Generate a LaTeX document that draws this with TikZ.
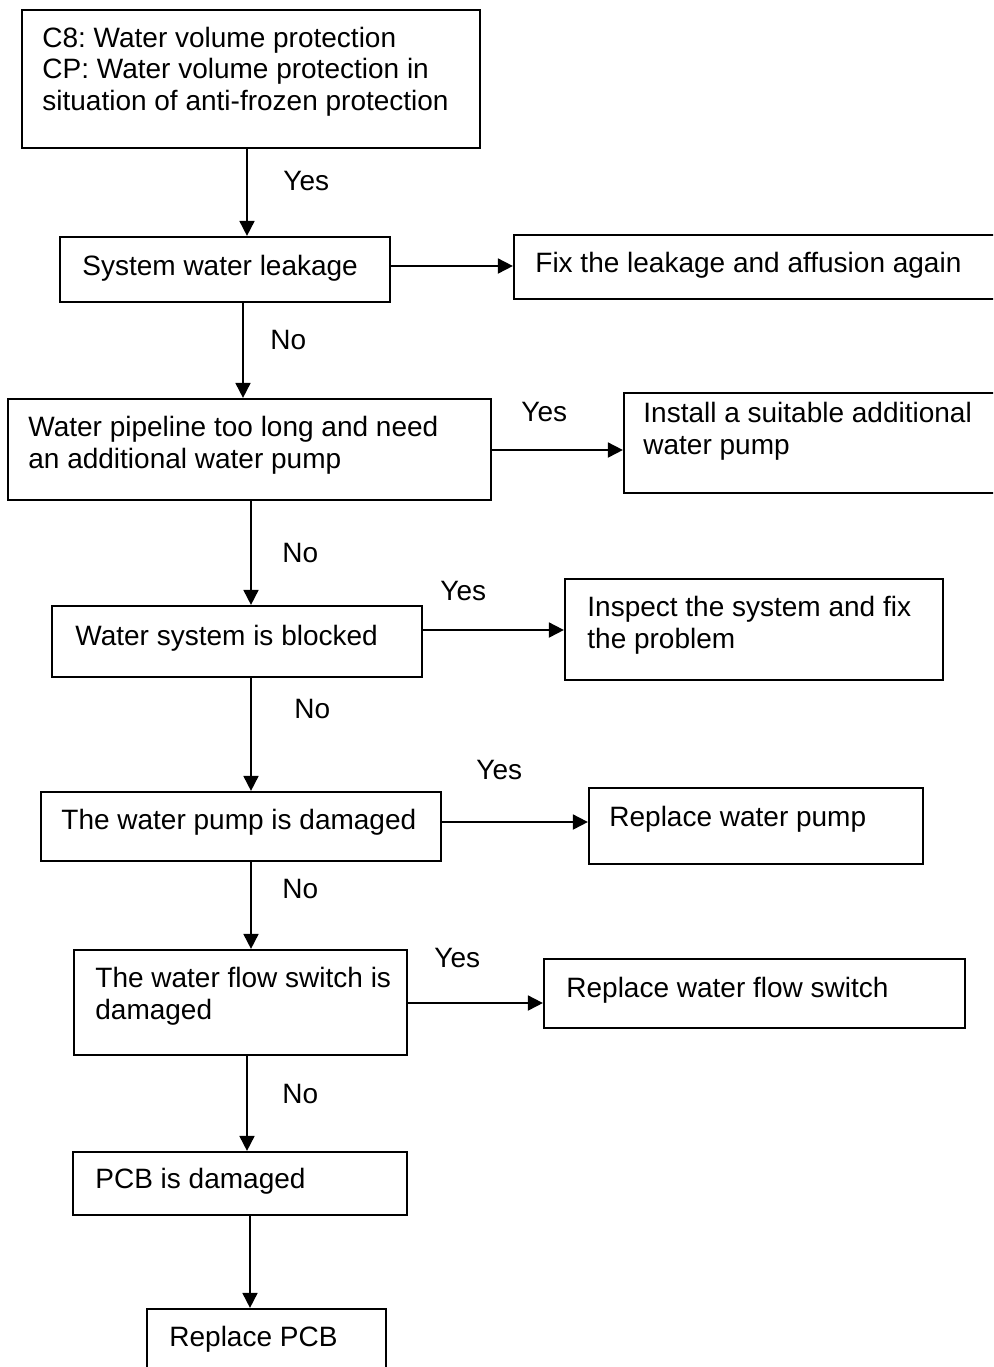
\documentclass[tikz,border=0pt]{standalone}
\usepackage{fontspec}
\setmainfont{Liberation Sans}
\usetikzlibrary{arrows.meta,fit}

\tikzset{
  box/.style={draw, line width=1.1pt, inner sep=0pt},
  txt/.style={anchor=base west, align=left, inner sep=0pt,
    font=\fontsize{14pt}{15.75pt}\selectfont\frenchspacing},
  arr/.style={line width=0.9pt, -{Triangle[width=7.5pt,length=7.5pt]}}
}

\begin{document}
\begin{tikzpicture}[x=0.5pt, y=-0.5pt]

\useasboundingbox (0,0) rectangle (993,1367);
\clip (0,0) rectangle (993,1367);

% Boxes
\node[box, fit={(22,10) (480,148)}] (prot) {};
\node[box, fit={(60,237) (390,302)}] (leak) {};
\node[box, fit={(514,235) (1005,299)}] (fixleak) {};
\node[box, fit={(8,399) (491,500)}] (pipe) {};
\node[box, fit={(624,393) (1005,493)}] (addpump) {};
\node[box, fit={(52,606) (422,677)}] (block) {};
\node[box, fit={(565,579) (943,680)}] (inspect) {};
\node[box, fit={(41,792) (441,861)}] (pump) {};
\node[box, fit={(589,788) (923,864)}] (newpump) {};
\node[box, fit={(74,950) (407,1055)}] (flow) {};
\node[box, fit={(544,959) (965,1028)}] (newflow) {};
\node[box, fit={(73,1152) (407,1215)}] (pcb) {};
\node[box, fit={(147,1309) (386,1390)}] (newpcb) {};

% Texts (base = last line)
\node[txt] (tprot) at (42,110) {C8: Water volume protection\\CP: Water volume protection in\\situation of anti-frozen protection};
\node[txt] (tleak) at (82,275) {System water leakage};
\node[txt] (tfixleak) at (535,272) {Fix the leakage and affusion again};
\node[txt] (tpipe) at (28,468) {Water pipeline too long and need\\an additional water pump};
\node[txt] (taddpump) at (643,454) {Install a suitable additional\\water pump};
\node[txt] (tblock) at (75,645) {Water system is blocked};
\node[txt] (tinspect) at (587,648) {Inspect the system and fix\\the problem};
\node[txt] (tpump) at (61,829) {The water pump is damaged};
\node[txt] (tnewpump) at (609,826) {Replace water pump};
\node[txt] (tflow) at (95,1019) {The water flow switch is\\damaged};
\node[txt] (tnewflow) at (566,997) {Replace water flow switch};
\node[txt] (tpcb) at (95,1188) {PCB is damaged};
\node[txt] (tnewpcb) at (169,1346) {Replace PCB};

% Arrows
\draw[arr] (247,0 |- prot.south) -- (247,0 |- leak.north);
\draw[arr] (leak.east |- 0,266) -- (fixleak.west |- 0,266);
\draw[arr] (243,0 |- leak.south) -- (243,0 |- pipe.north);
\draw[arr] (pipe.east |- 0,450) -- (addpump.west |- 0,450);
\draw[arr] (251,0 |- pipe.south) -- (251,0 |- block.north);
\draw[arr] (block.east |- 0,630) -- (inspect.west |- 0,630);
\draw[arr] (251,0 |- block.south) -- (251,0 |- pump.north);
\draw[arr] (pump.east |- 0,822) -- (newpump.west |- 0,822);
\draw[arr] (251,0 |- pump.south) -- (251,0 |- flow.north);
\draw[arr] (flow.east |- 0,1003) -- (newflow.west |- 0,1003);
\draw[arr] (247,0 |- flow.south) -- (247,0 |- pcb.north);
\draw[arr] (250,0 |- pcb.south) -- (250,0 |- newpcb.north);

% Labels
\node[txt] (yes1) at (283,190) {Yes};
\node[txt] (no1) at (270,349) {No};
\node[txt] (yes2) at (521,421) {Yes};
\node[txt] (no2) at (282,562) {No};
\node[txt] (yes3) at (440,600) {Yes};
\node[txt] (no3) at (294,718) {No};
\node[txt] (yes4) at (476,779) {Yes};
\node[txt] (no4) at (282,898) {No};
\node[txt] (yes5) at (434,967) {Yes};
\node[txt] (no5) at (282,1103) {No};

\end{tikzpicture}
\end{document}
